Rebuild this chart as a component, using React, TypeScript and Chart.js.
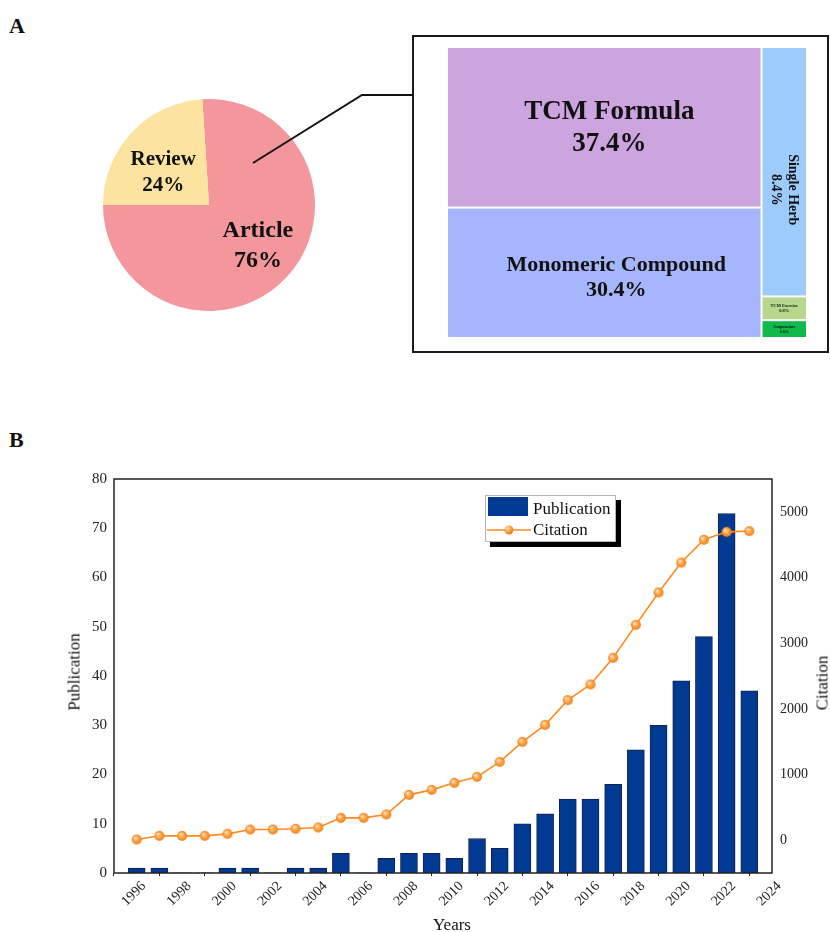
import React, { useEffect, useRef } from "react";
import { Chart, registerables } from "chart.js";

Chart.register(...registerables);

// ---------- Data ----------
const pieLabels = ["Article", "Review"];
const pieValues = [76, 24];
const pieColors = ["#F4979C", "#FDE3A0"];

const treeLabels = ["TCM Formula", "Monomeric Compound", "Single Herb", "TCM Exercise", "Acupuncture"];
const treeValues = [37.4, 30.4, 8.4, 0.8, 0.6];
const treeColumns = [0, 0, 1, 1, 1];
const treeColors = ["#CBA4E0", "#A6B6FD", "#9DCBFC", "#B6D78C", "#10B94B"];

const years = [
  1996, 1997, 1998, 1999, 2000, 2001, 2002, 2003, 2004, 2005, 2006, 2007, 2008, 2009,
  2010, 2011, 2012, 2013, 2014, 2015, 2016, 2017, 2018, 2019, 2020, 2021, 2022, 2023,
];
const publications = [1, 1, 0, 0, 1, 1, 0, 1, 1, 4, 0, 3, 4, 4, 3, 7, 5, 10, 12, 15, 15, 18, 25, 30, 39, 48, 73, 37];
const citations = [
  10, 66, 66, 66, 96, 162, 162, 173, 193, 340, 340, 391, 690, 766, 873, 964, 1193, 1497, 1756,
  2132, 2371, 2777, 3279, 3772, 4228, 4574, 4695, 4706,
];
const yearTicks = [1996, 1998, 2000, 2002, 2004, 2006, 2008, 2010, 2012, 2014, 2016, 2018, 2020, 2022, 2024];
const pubTicks = [0, 10, 20, 30, 40, 50, 60, 70, 80];
const citeTicks = [0, 1000, 2000, 3000, 4000, 5000];

const SERIF = '"Liberation Serif", "Times New Roman", serif';
const BAR_BLUE = "#013A92";
const ORANGE = "#FF8A1F";

function makeSphere(r: number): HTMLCanvasElement {
  const c = document.createElement("canvas");
  const s = Math.ceil(r * 2 + 2);
  c.width = s;
  c.height = s;
  const g = c.getContext("2d")!;
  const cx = s / 2;
  const cy = s / 2;
  const grad = g.createRadialGradient(cx - r * 0.3, cy - r * 0.35, r * 0.1, cx, cy, r);
  grad.addColorStop(0, "#FFE2BE");
  grad.addColorStop(0.5, "#FFA448");
  grad.addColorStop(1, "#F07C10");
  g.fillStyle = grad;
  g.beginPath();
  g.arc(cx, cy, r, 0, Math.PI * 2);
  g.fill();
  return c;
}

// ---------- Pie ----------
function PieChart() {
  const ref = useRef<HTMLCanvasElement>(null);
  useEffect(() => {
    const labelStyle = [
      { size: 24, lh: 30, dist: 0.62, dx: 1, dy: -4 },
      { size: 21, lh: 26, dist: 0.58, dx: -1, dy: 10 },
    ];
    const labelPlugin = {
      id: "pieLabels",
      afterDatasetsDraw(chart: any) {
        const ctx = chart.ctx;
        const meta = chart.getDatasetMeta(0);
        meta.data.forEach((arc: any, i: number) => {
          const p = arc.getProps(["x", "y", "startAngle", "endAngle", "outerRadius"], true);
          const mid = (p.startAngle + p.endAngle) / 2;
          const st = labelStyle[i];
          const cx = p.x + Math.cos(mid) * p.outerRadius * st.dist + st.dx;
          const cy = p.y + Math.sin(mid) * p.outerRadius * st.dist + st.dy;
          ctx.save();
          ctx.font = `bold ${st.size}px ${SERIF}`;
          ctx.fillStyle = "#111";
          ctx.textAlign = "center";
          ctx.textBaseline = "middle";
          ctx.fillText(pieLabels[i], cx, cy - st.lh / 2);
          ctx.fillText(pieValues[i] + "%", cx, cy + st.lh / 2);
          ctx.restore();
        });
      },
    };
    const chart = new Chart(ref.current!, {
      type: "pie",
      data: {
        labels: pieLabels,
        datasets: [{ data: pieValues, backgroundColor: pieColors, borderWidth: 0 }],
      },
      options: {
        responsive: false,
        animation: false,
        rotation: -3.6,
        layout: { padding: 10 },
        plugins: { legend: { display: false }, tooltip: { enabled: false } },
      },
      plugins: [labelPlugin],
    } as any);
    return () => chart.destroy();
  }, []);
  return (
    <canvas
      ref={ref}
      width={232}
      height={232}
      style={{ position: "absolute", left: 93, top: 89, width: 232, height: 232 }}
    />
  );
}

// ---------- Treemap ----------
function TreeMap() {
  const ref = useRef<HTMLCanvasElement>(null);
  useEffect(() => {
    const colTotals: number[] = [];
    treeValues.forEach((v, i) => {
      const c = treeColumns[i];
      colTotals[c] = (colTotals[c] || 0) + v;
    });
    const total = colTotals.reduce((a, b) => a + b, 0);
    const cells = treeValues.map((v, i) => {
      const c = treeColumns[i];
      let x0 = 0;
      for (let k = 0; k < c; k++) x0 += colTotals[k];
      let y0 = 0;
      for (let k = 0; k < i; k++) if (treeColumns[k] === c) y0 += treeValues[k];
      return { x0, x1: x0 + colTotals[c], y0: y0 / colTotals[c], y1: (y0 + v) / colTotals[c] };
    });
    const styles = [
      { size: 27, lh: 32, dx: 5, dy: 1, rot: false },
      { size: 22, lh: 25, dx: 12, dy: 5, rot: false },
      { size: 14, lh: 17, dx: 0, dy: 18, rot: true },
      { size: 4.5, lh: 5, dx: 0, dy: 0, rot: false },
      { size: 4, lh: 5, dx: 0, dy: 0, rot: false },
    ];
    const plugin = {
      id: "treemapCells",
      afterDraw(chart: any) {
        const ctx = chart.ctx;
        const xs = chart.scales.x;
        const ys = chart.scales.y;
        cells.forEach((cell, i) => {
          const px0 = xs.getPixelForValue(cell.x0);
          const px1 = xs.getPixelForValue(cell.x1);
          const py0 = ys.getPixelForValue(cell.y0);
          const py1 = ys.getPixelForValue(cell.y1);
          const l = Math.min(px0, px1) + 1;
          const r = Math.max(px0, px1) - 1;
          const t = Math.min(py0, py1) + 1;
          const b = Math.max(py0, py1) - 1;
          ctx.save();
          ctx.fillStyle = treeColors[i];
          ctx.fillRect(l, t, r - l, b - t);
          const st = styles[i];
          const cx = (l + r) / 2 + st.dx;
          const cy = (t + b) / 2 + st.dy;
          ctx.font = `bold ${st.size}px ${SERIF}`;
          ctx.fillStyle = "#111";
          ctx.textAlign = "center";
          ctx.textBaseline = "middle";
          ctx.translate(cx, cy);
          if (st.rot) ctx.rotate(Math.PI / 2);
          ctx.fillText(treeLabels[i], 0, -st.lh / 2);
          ctx.fillText(treeValues[i].toFixed(1) + "%", 0, st.lh / 2);
          ctx.restore();
        });
      },
    };
    const chart = new Chart(ref.current!, {
      type: "scatter",
      data: { datasets: [{ data: [] }] },
      options: {
        responsive: false,
        animation: false,
        layout: { padding: 0 },
        scales: {
          x: { type: "linear", min: 0, max: total, display: false },
          y: { type: "linear", min: 0, max: 1, reverse: true, display: false },
        },
        plugins: { legend: { display: false }, tooltip: { enabled: false } },
      },
      plugins: [plugin],
    } as any);
    return () => chart.destroy();
  }, []);
  return (
    <canvas
      ref={ref}
      width={360}
      height={291}
      style={{ position: "absolute", left: 447, top: 47, width: 360, height: 291 }}
    />
  );
}

// ---------- Bar + line ----------
function TrendChart() {
  const ref = useRef<HTMLCanvasElement>(null);
  useEffect(() => {
    const sphere = makeSphere(5);
    const framePlugin = {
      id: "frame",
      afterDraw(chart: any) {
        const { ctx, chartArea } = chart;
        ctx.save();
        ctx.strokeStyle = "#222";
        ctx.lineWidth = 1.5;
        ctx.strokeRect(chartArea.left, chartArea.top, chartArea.right - chartArea.left, chartArea.bottom - chartArea.top);
        ctx.restore();
      },
    };
    const tickFont = { family: SERIF, size: 14 };
    const chart = new Chart(ref.current!, {
      type: "bar",
      data: {
        datasets: [
          {
            type: "line",
            label: "Citation",
            data: years.map((y, i) => ({ x: y, y: citations[i] })),
            yAxisID: "y1",
            borderColor: ORANGE,
            borderWidth: 1.6,
            pointStyle: sphere,
            pointRadius: 5,
            order: 1,
          },
          {
            type: "bar",
            label: "Publication",
            data: years.map((y, i) => ({ x: y, y: publications[i] })),
            yAxisID: "y",
            backgroundColor: BAR_BLUE,
            borderColor: "#14204a",
            borderWidth: (c: any) => (c.raw && c.raw.y === 0 ? 0 : 1),
            borderSkipped: "bottom",
            barThickness: 17,
            order: 2,
          },
        ],
      },
      options: {
        responsive: false,
        animation: false,
        layout: { padding: { top: 19, left: 0, right: 0, bottom: 0 } },
        plugins: { legend: { display: false }, tooltip: { enabled: false } },
        scales: {
          x: {
            type: "linear",
            min: 1995,
            max: 2024,
            offset: false,
            afterBuildTicks: (axis: any) => {
              axis.ticks = yearTicks.map((v) => ({ value: v }));
            },
            afterFit: (s: any) => {
              s.height = 59;
            },
            grid: { display: true, drawOnChartArea: false, drawTicks: true, tickLength: 3, color: "#222" },
            border: { display: false },
            ticks: {
              autoSkip: false,
              maxRotation: 45,
              minRotation: 45,
              padding: 2,
              labelOffset: 7,
              color: "#222",
              font: tickFont,
              callback: (v: any) => String(v),
            },
          },
          y: {
            type: "linear",
            position: "left",
            min: 0,
            max: 80,
            afterBuildTicks: (axis: any) => {
              axis.ticks = pubTicks.map((v) => ({ value: v }));
            },
            afterFit: (s: any) => {
              s.width = 114;
            },
            grid: { display: false, drawTicks: false },
            border: { display: false },
            ticks: { padding: 7, color: "#222", font: { family: SERIF, size: 15 } },
          },
          y1: {
            type: "linear",
            position: "right",
            min: -500,
            max: 5500,
            afterBuildTicks: (axis: any) => {
              axis.ticks = citeTicks.map((v) => ({ value: v }));
            },
            afterFit: (s: any) => {
              s.width = 58;
            },
            grid: { display: false, drawTicks: false },
            border: { display: false },
            ticks: { padding: 8, color: "#222", font: tickFont, callback: (v: any) => String(v) },
          },
        },
      },
      plugins: [framePlugin],
    } as any);
    return () => chart.destroy();
  }, []);
  return (
    <canvas
      ref={ref}
      width={830}
      height={472}
      style={{ position: "absolute", left: 0, top: 460, width: 830, height: 472 }}
    />
  );
}

export default function App() {
  const text = (style: React.CSSProperties, content: string, rotate = 0) => (
    <div
      style={{
        position: "absolute",
        whiteSpace: "nowrap",
        lineHeight: 1,
        transform: `translate(-50%, -50%) rotate(${rotate}deg)`,
        ...style,
      }}
    >
      {content}
    </div>
  );
  return (
    <div
      style={{
        position: "absolute",
        left: 0,
        top: 0,
        width: 830,
        height: 932,
        background: "#fff",
        fontFamily: SERIF,
        color: "#111",
        overflow: "hidden",
      }}
    >
      <div style={{ position: "absolute", left: 9, top: 15, fontSize: 22, fontWeight: "bold", lineHeight: 1 }}>A</div>
      <div style={{ position: "absolute", left: 9, top: 429, fontSize: 22, fontWeight: "bold", lineHeight: 1 }}>B</div>

      <PieChart />
      <div
        style={{
          position: "absolute",
          left: 412,
          top: 35,
          width: 417,
          height: 318,
          border: "2.5px solid #1a1a1a",
          boxSizing: "border-box",
        }}
      />
      <TreeMap />
      <svg
        width={830}
        height={400}
        style={{ position: "absolute", left: 0, top: 0, pointerEvents: "none" }}
      >
        <polyline points="253,163 362,95 413,95" fill="none" stroke="#111" strokeWidth={2} />
      </svg>

      <TrendChart />

      {/* Legend */}
      <div
        style={{
          position: "absolute",
          left: 485,
          top: 495,
          width: 131,
          height: 47,
          border: "1px solid #b5b5b5",
          background: "#fff",
          boxShadow: "5px 5px 0 #000",
          boxSizing: "border-box",
        }}
      >
        <div style={{ position: "absolute", left: 2, top: 1, width: 40, height: 19, background: BAR_BLUE }} />
        <div style={{ position: "absolute", left: 47, top: 4, fontSize: 17, lineHeight: 1, whiteSpace: "nowrap" }}>
          Publication
        </div>
        <svg width={46} height={14} style={{ position: "absolute", left: 1, top: 27 }}>
          <defs>
            <radialGradient id="sph" cx="0.35" cy="0.32" r="0.7">
              <stop offset="0" stopColor="#FFE2BE" />
              <stop offset="0.5" stopColor="#FFA448" />
              <stop offset="1" stopColor="#F07C10" />
            </radialGradient>
          </defs>
          <line x1={0} y1={7} x2={44} y2={7} stroke={ORANGE} strokeWidth={1.6} />
          <circle cx={22} cy={7} r={4.5} fill="url(#sph)" />
        </svg>
        <div style={{ position: "absolute", left: 47, top: 25, fontSize: 17, lineHeight: 1, whiteSpace: "nowrap" }}>
          Citation
        </div>
      </div>

      {text({ left: 74, top: 672, fontSize: 17 }, "Publication", -90)}
      {text({ left: 822, top: 683, fontSize: 17 }, "Citation", -90)}
      {text({ left: 452, top: 924, fontSize: 17 }, "Years")}
    </div>
  );
}
